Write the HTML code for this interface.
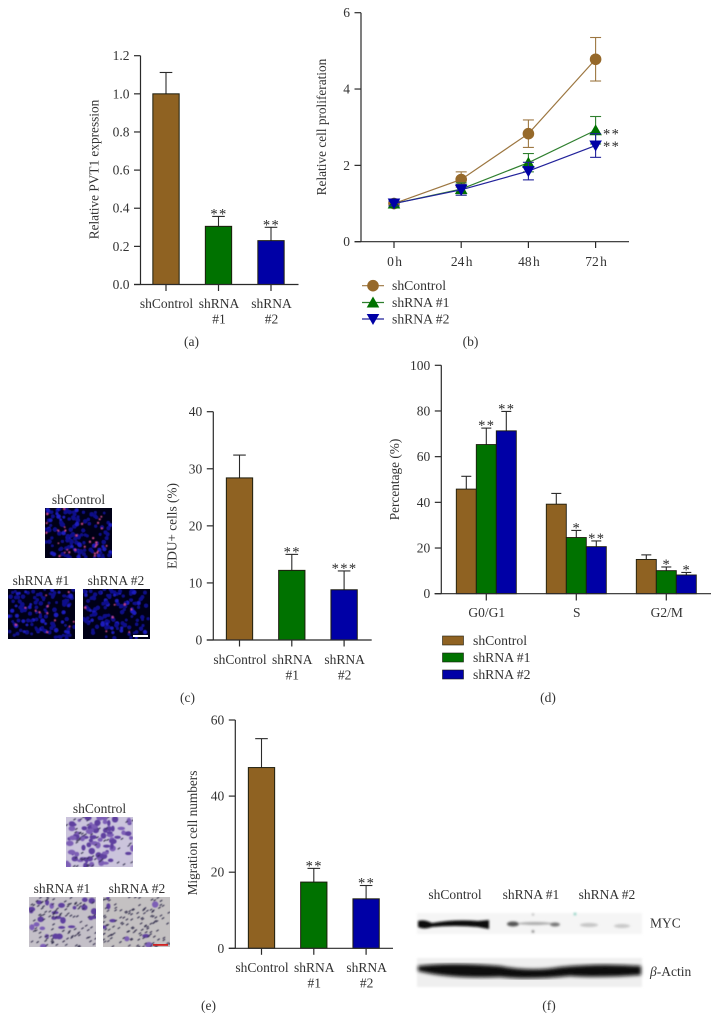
<!DOCTYPE html>
<html>
<head>
<meta charset="utf-8">
<title>PVT1 knockdown figure</title>
<style>
html,body{margin:0;padding:0;background:#fff;width:720px;height:1032px;overflow:hidden}
svg text{font-family:"Liberation Serif",serif;fill:#333}
</style>
</head>
<body>
<svg id="fig" width="720" height="1032" viewBox="0 0 720 1032" xmlns="http://www.w3.org/2000/svg">
<defs>
<filter id="b03"><feGaussianBlur stdDeviation="0.55"/></filter>
<filter id="b1"><feGaussianBlur stdDeviation="1.1"/></filter>
<filter id="b2"><feGaussianBlur stdDeviation="1.8"/></filter>
<filter id="soft"><feGaussianBlur stdDeviation="0.3"/></filter>
</defs>
<g filter="url(#soft)" id="root"></g>
</svg>
<script>
// ---- chart data ----
const colorsGroup = ['#8f6222', '#007200', '#0000a6'];
const lineColors = ['#9c7640', '#2f7f2f', '#20209a'];
const groupNames = ['shControl', 'shRNA #1', 'shRNA #2'];
const barCategories = ['shControl', 'shRNA|#1', 'shRNA|#2'];

const valuesA = [1.0, 0.305, 0.23];
const errorsA = [0.112, 0.052, 0.07];
const starsA = ['', '**', '**'];
const ticksA = [0, 0.2, 0.4, 0.6, 0.8, 1.0, 1.2];

const timeLabels = ['0 h', '24 h', '48 h', '72 h'];
const ticksB = [0, 2, 4, 6];
const valuesBControl = [1, 1.63, 2.83, 4.78];
const errorsBControl = [0.05, 0.2, 0.36, 0.57];
const valuesBOne = [1, 1.38, 2.07, 2.92];
const errorsBOne = [0.09, 0.16, 0.24, 0.36];
const valuesBTwo = [1, 1.36, 1.85, 2.52];
const errorsBTwo = [0.06, 0.14, 0.23, 0.31];

const valuesC = [28.4, 12.2, 8.8];
const errorsC = [4.0, 2.8, 3.3];
const starsC = ['', '**', '***'];
const ticksC = [0, 10, 20, 30, 40];

const cyclePhases = ['G0/G1', 'S', 'G2/M'];
const valuesDControl = [45.8, 39.2, 15];
const errorsDControl = [5.6, 4.7, 2];
const valuesDOne = [65.3, 24.6, 10.1];
const errorsDOne = [7.2, 3.1, 1.6];
const valuesDTwo = [71.3, 20.6, 8.2];
const errorsDTwo = [8.5, 2.5, 1.1];
const starsDOne = ['**', '*', '*'];
const starsDTwo = ['**', '**', '*'];
const ticksD = [0, 20, 40, 60, 80, 100];

const valuesE = [47.5, 17.4, 13];
const errorsE = [7.6, 3.6, 3.5];
const starsE = ['', '**', '**'];
const ticksE = [0, 20, 40, 60];

// ---- helpers ----
const NS = 'http://www.w3.org/2000/svg';
const root = document.getElementById('root');
const AXIS = '#2a2a2a';
function mk(tag, attrs, parent) {
  const e = document.createElementNS(NS, tag);
  for (const k in attrs) e.setAttribute(k, attrs[k]);
  (parent || root).appendChild(e);
  return e;
}
function group(name) {
  const g = mk('g', {});
  
  
  return g;
}
function label(parent, name, str, x, y, size, anchor, extra) {
  const t = mk('text', Object.assign({x: x, y: y, 'font-size': size, 'text-anchor': anchor || 'middle'}, extra || {}), parent);
  t.textContent = str;
  
  
  return t;
}
function line(parent, x1, y1, x2, y2, color, w) {
  return mk('line', {x1: x1, y1: y1, x2: x2, y2: y2, stroke: color || AXIS, 'stroke-width': w || 1.2}, parent);
}
function linear(d0, d1, r0, r1) { return v => r0 + (v - d0) * (r1 - r0) / (d1 - d0); }
function fmt(t, dec) { return dec ? t.toFixed(dec) : String(t); }
function yAxis(g, prefix, axisX, y, ticks, dec, title, titleX, titleCY) {
  line(g, axisX, y(ticks[0]), axisX, y(ticks[ticks.length - 1]));
  ticks.forEach(t => {
    line(g, axisX - 6.5, y(t), axisX, y(t));
    label(g, prefix + '-y-tick-label', fmt(t, dec), axisX - 11, y(t) + 4.5, 13.5, 'end');
  });
  label(g, prefix + '-y-axis-title', title, titleX, titleCY, 13.3, 'middle', {transform: 'rotate(-90 ' + titleX + ' ' + titleCY + ')'});
}
function stars(g, name, str, x, y, anchor) {
  label(g, name, str, x, y, 14.5, anchor || 'middle', {'letter-spacing': '1.4', style: 'fill:#2c2c2c'});
}
function errorUp(g, x, yTop, yBase, half, color) {
  line(g, x, yBase, x, yTop, color || AXIS, 1.1);
  line(g, x - half, yTop, x + half, yTop, color || AXIS, 1.1);
}
function barChart(o) {
  const g = group(o.name);
  const y = linear(o.ticks[0], o.ticks[o.ticks.length - 1], o.y0, o.yTop);
  const x = i => o.c0 + i * o.step;
  yAxis(g, o.name, o.axisX, y, o.ticks, o.dec, o.title, o.titleX, o.titleCY);
  o.values.forEach((v, i) => {
    errorUp(g, x(i), y(v + o.errors[i]), y(v), 6.3);
    const r = mk('rect', {x: x(i) - o.bw / 2, y: y(v), width: o.bw, height: o.y0 - y(v), fill: colorsGroup[i], stroke: '#1c1c10', 'stroke-width': 1}, g);
    
    
    line(g, x(i), o.y0, x(i), o.y0 + 6.5);
    if (o.stars[i]) stars(g, 'significance-' + i, o.stars[i], x(i) + 0.5, y(v + o.errors[i]) + 2);
    o.categories[i].split('|').forEach((s, j) => {
      label(g, 'x-tick-label', s, x(i) + 0.5, o.labelY + j * 15.6, 13.5);
    });
  });
  line(g, o.axisX - 6.5, o.y0, o.xEnd, o.y0);
}
function panelLetter(str, x, y) {
  const g = group('panel-label');
  label(g, 'panel-letter', str, x, y, 13.5);
}

// ---- (a) ----
barChart({name: 'chart-a', values: valuesA, errors: errorsA, stars: starsA, ticks: ticksA, dec: 1, categories: barCategories,
  axisX: 140.5, xEnd: 298.5, y0: 284.5, yTop: 55.7, c0: 166, step: 52.5, bw: 26.3, labelY: 308,
  title: 'Relative PVT1 expression', titleX: 98.5, titleCY: 169.5});
panelLetter('(a)', 191.5, 346);

// ---- (b) ----
(function () {
  const g = group('chart-b');
  const y = linear(0, 6, 241.7, 12.7);
  const x = i => 394 + i * 67.2;
  yAxis(g, 'chart-b', 361, y, ticksB, 0, 'Relative cell proliferation', 326, 127);
  line(g, 354.5, 241.7, 629, 241.7);
  timeLabels.forEach((t, i) => {
    line(g, x(i), 241.7, x(i), 248);
    label(g, 'x-tick-label', t, x(i) + 0.5, 266, 13.5, 'middle', {'word-spacing': '-2'});
  });
  const seriesVals = [valuesBControl, valuesBOne, valuesBTwo];
  const seriesErr = [errorsBControl, errorsBOne, errorsBTwo];
  const markFill = ['#96692a', '#007200', '#0000a6'];
  function marker(p, kind, cx, cy, fill) {
    if (kind === 0) return mk('circle', {cx: cx, cy: cy, r: 5.8, fill: fill}, p);
    const d = kind === 1 ? -1 : 1;
    return mk('polygon', {points: (cx - 6.3) + ',' + (cy - d * 5) + ' ' + (cx + 6.3) + ',' + (cy - d * 5) + ' ' + cx + ',' + (cy + d * 6), fill: fill}, p);
  }
  seriesVals.forEach((vals, s) => {
    const sg = mk('g', {}, g);
    
    
    vals.forEach((v, i) => {
      const e = seriesErr[s][i];
      line(sg, x(i), y(v + e), x(i), y(v - e), lineColors[s], 1.1);
      line(sg, x(i) - 5.5, y(v + e), x(i) + 5.5, y(v + e), lineColors[s], 1.1);
      line(sg, x(i) - 5.5, y(v - e), x(i) + 5.5, y(v - e), lineColors[s], 1.1);
    });
    mk('polyline', {points: vals.map((v, i) => x(i) + ',' + y(v)).join(' '), fill: 'none', stroke: lineColors[s], 'stroke-width': 1.2}, sg);
    vals.forEach((v, i) => {
      const m = marker(sg, s, x(i), y(v), markFill[s]);
      
      
    });
  });
  stars(g, 'significance-shrna-1', '**', 603, y(valuesBOne[3]) + 8, 'start');
  stars(g, 'significance-shrna-2', '**', 603, y(valuesBTwo[3]) + 5.5, 'start');
  const rows = [285.7, 302.5, 319];
  groupNames.forEach((n, s) => {
    const lg = mk('g', {}, g);
    
    
    line(lg, 362, rows[s], 384, rows[s], lineColors[s], 1.2);
    marker(lg, s, 373, rows[s], markFill[s]);
    label(lg, 'legend-label', n, 392, rows[s] + 4.3, 13.7, 'start');
  });
})();
panelLetter('(b)', 470.5, 346);

// ---- (c) ----
barChart({name: 'chart-c', values: valuesC, errors: errorsC, stars: starsC, ticks: ticksC, dec: 0, categories: barCategories,
  axisX: 213.3, xEnd: 371.7, y0: 640, yTop: 411.7, c0: 239.5, step: 52.3, bw: 26.3, labelY: 664,
  title: 'EDU+ cells (%)', titleX: 176.5, titleCY: 526});
panelLetter('(c)', 187.5, 702);

// ---- (d) ----
(function () {
  const g = group('chart-d');
  const y = linear(0, 100, 593.7, 365.3);
  const x = i => 486.3 + i * 90;
  yAxis(g, 'chart-d', 441.3, y, ticksD, 0, 'Percentage (%)', 399, 479.5);
  const vals = [valuesDControl, valuesDOne, valuesDTwo];
  const errs = [errorsDControl, errorsDOne, errorsDTwo];
  const sig = [null, starsDOne, starsDTwo];
  cyclePhases.forEach((c, i) => {
    line(g, x(i), 593.7, x(i), 600.5);
    label(g, 'x-tick-label', c, x(i) + 0.5, 617, 13.5);
    vals.forEach((series, s) => {
      const cx = x(i) + (s - 1) * 20;
      const v = series[i];
      errorUp(g, cx, y(v + errs[s][i]), y(v), 5, AXIS);
      const r = mk('rect', {x: cx - 10, y: y(v), width: 20, height: 593.7 - y(v), fill: colorsGroup[s], stroke: '#1c1c10', 'stroke-width': 0.9}, g);
      
      
      if (sig[s]) stars(g, 'significance', sig[s][i], cx + 0.5, y(v + errs[s][i]) + 2);
    });
  });
  line(g, 434.5, 593.7, 711, 593.7);
  const rows = [640.5, 657.5, 674.5];
  groupNames.forEach((n, s) => {
    const lg = mk('g', {}, g);
    
    
    mk('rect', {x: 442.5, y: rows[s] - 4.5, width: 21, height: 9, fill: colorsGroup[s], stroke: '#1c1c10', 'stroke-width': 0.6}, lg);
    label(lg, 'legend-label', n, 473, rows[s] + 4.3, 13.7, 'start');
  });
})();
panelLetter('(d)', 548, 702);

// ---- (e) ----
barChart({name: 'chart-e', values: valuesE, errors: errorsE, stars: starsE, ticks: ticksE, dec: 0, categories: barCategories,
  axisX: 235.3, xEnd: 393, y0: 948.3, yTop: 720, c0: 261.5, step: 52.3, bw: 26.3, labelY: 972,
  title: 'Migration cell numbers', titleX: 197, titleCY: 833});
panelLetter('(e)', 208.5, 1010);

// ---- micrograph textures (decorative, seeded) ----
function prng(seed) { let s = seed * 7919 + 13; return () => (s = (s * 16807) % 2147483647) / 2147483647; }
function fluorescence(name, x, y, w, h, seed, pink) {
  const g = group(name);
  const svg = mk('svg', {x: x, y: y, width: w, height: h, viewBox: '0 0 ' + w + ' ' + h}, g);
  mk('rect', {width: w, height: h, fill: '#030214'}, svg);
  const r = prng(seed);
  const cells = mk('g', {filter: 'url(#b03)'}, svg);
  for (let i = 0; i < 125; i++) {
    mk('circle', {cx: r() * w, cy: r() * h, r: 1.4 + r() * 1.0, fill: r() > 0.75 ? '#1a1ac0' : '#10108c'}, cells);
  }
  for (let i = 0; i < pink; i++) {
    mk('circle', {cx: r() * w, cy: r() * h, r: 0.8 + r() * 0.4, fill: '#c8468a'}, cells);
  }
}
function crystal(name, x, y, w, h, seed, bg, blobs, dashes) {
  const g = group(name);
  const svg = mk('svg', {x: x, y: y, width: w, height: h, viewBox: '0 0 ' + w + ' ' + h}, g);
  mk('rect', {width: w, height: h, fill: bg}, svg);
  const r = prng(seed);
  const t = mk('g', {filter: 'url(#b03)'}, svg);
  for (let i = 0; i < blobs; i++) {
    mk('ellipse', {cx: r() * w, cy: r() * h, rx: 1.6 + r() * 2.2, ry: 1.4 + r() * 1.9, fill: r() > 0.5 ? '#5f419f' : '#7d5fb6'}, t);
  }
  for (let i = 0; i < dashes; i++) {
    const cx = r() * w, cy = r() * h;
    mk('line', {x1: cx - 1.2, y1: cy + 0.8, x2: cx + 1.2, y2: cy - 0.8, stroke: '#2e2a48', 'stroke-width': 1}, t);
  }
}
fluorescence('edu-image-shcontrol', 45, 508, 67, 50, 11, 30);
fluorescence('edu-image-shrna-1', 8, 589, 67, 50, 23, 12);
fluorescence('edu-image-shrna-2', 83, 589, 67, 50, 37, 7);
mk('rect', {x: 133, y: 635, width: 15, height: 2, fill: '#fff'});
label(group('edu-labels'), 'edu-label', 'shControl', 78.5, 504, 13.5);
label(group('edu-labels'), 'edu-label', 'shRNA #1', 41, 585, 13.5);
label(group('edu-labels'), 'edu-label', 'shRNA #2', 116, 585, 13.5);

crystal('migration-image-shcontrol', 66, 817, 67, 50, 51, '#cbc4dc', 85, 50);
crystal('migration-image-shrna-1', 29, 897, 67, 50, 67, '#c4c0c8', 28, 100);
crystal('migration-image-shrna-2', 103, 897, 67, 50, 83, '#c4c1c2', 8, 120);
mk('rect', {x: 153, y: 944, width: 15, height: 1.8, fill: '#d02020'});
label(group('migration-labels'), 'migration-label', 'shControl', 99.5, 813, 13.5);
label(group('migration-labels'), 'migration-label', 'shRNA #1', 62, 893, 13.5);
label(group('migration-labels'), 'migration-label', 'shRNA #2', 137, 893, 13.5);

// ---- (f) western blot ----
(function () {
  const g = group('western-blot');
  ['shControl', 'shRNA #1', 'shRNA #2'].forEach((n, i) => {
    label(g, 'blot-lane-label', n, [455, 531, 607][i], 899, 13.5);
  });
  mk('rect', {x: 417, y: 913, width: 225, height: 21, fill: '#f5f5f5', filter: 'url(#b1)'}, g);
  mk('rect', {x: 417, y: 958, width: 225, height: 29, fill: '#efefef', filter: 'url(#b1)'}, g);
  const m = mk('g', {filter: 'url(#b1)'}, g);
  mk('path', {d: 'M418 921 Q424 919 432 923 Q455 919 478 921 L489 920 L489 929 L478 927 Q455 925 432 927 Q424 930 418 927Z', fill: '#0c0c0c'}, m);
  mk('ellipse', {cx: 513, cy: 924, rx: 6, ry: 2.5, fill: '#555'}, m);
  mk('ellipse', {cx: 535, cy: 923.5, rx: 17, ry: 1.5, fill: '#aaa'}, m);
  mk('ellipse', {cx: 555, cy: 924.5, rx: 5, ry: 2, fill: '#777'}, m);
  mk('ellipse', {cx: 589, cy: 925, rx: 9, ry: 2, fill: '#c4c4c4'}, m);
  mk('ellipse', {cx: 622, cy: 926, rx: 8, ry: 2, fill: '#c8c8c8'}, m);
  mk('circle', {cx: 533, cy: 931.5, r: 1.2, fill: '#666'}, m);
  mk('circle', {cx: 533, cy: 914.5, r: 0.9, fill: '#888'}, m);
  mk('circle', {cx: 575, cy: 914, r: 1.1, fill: '#4ab8a0'}, m);
  const a = mk('g', {filter: 'url(#b2)'}, g);
  mk('path', {d: 'M418 966 Q450 962 500 966 Q530 972 560 967 Q600 963 641 966 L641 975 Q600 978 570 976 Q530 980 500 977 Q450 979 418 971Z', fill: '#0a0a0a'}, a);
  label(g, 'myc-label', 'MYC', 650, 927.5, 13.5, 'start');
  const t = label(g, 'beta-actin-label', '', 650, 976, 13.5, 'start');
  const it = mk('tspan', {'font-style': 'italic'}, t);
  it.textContent = 'β';
  const rest = mk('tspan', {}, t);
  rest.textContent = '-Actin';
})();
panelLetter('(f)', 549, 1010);
</script>
</body>
</html>
